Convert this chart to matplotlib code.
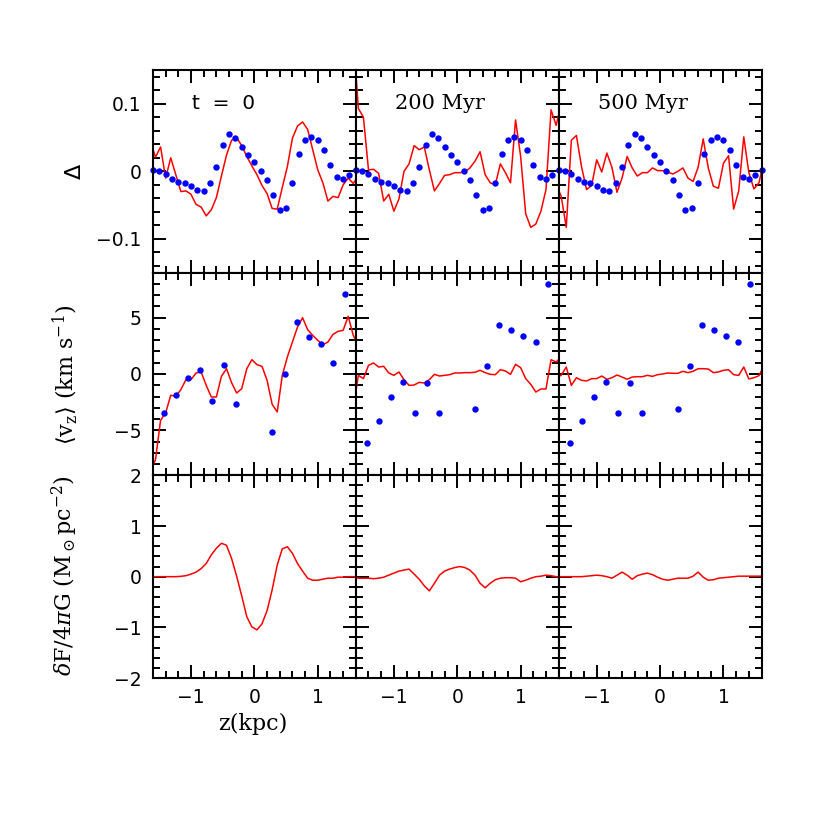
import matplotlib
matplotlib.use("Agg")
import matplotlib.pyplot as plt
from matplotlib.ticker import MultipleLocator

# vertical height grids (kpc)
z_line = [-1.64, -1.56, -1.48, -1.40, -1.32, -1.24, -1.16, -1.08, -1.00, -0.92,
          -0.84, -0.76, -0.68, -0.60, -0.52, -0.44, -0.36, -0.28, -0.20, -0.12,
          -0.04, 0.04, 0.12, 0.20, 0.28, 0.36, 0.44, 0.52, 0.60, 0.68,
          0.76, 0.84, 0.92, 1.00, 1.08, 1.16, 1.24, 1.32, 1.40, 1.48,
          1.56, 1.64]
z_dens = [-1.6, -1.5, -1.4, -1.3, -1.2, -1.1, -1.0, -0.9, -0.8, -0.7, -0.6,
          -0.5, -0.4, -0.3, -0.2, -0.1, 0.0, 0.1, 0.2, 0.3, 0.4, 0.5,
          0.6, 0.7, 0.8, 0.9, 1.0, 1.1, 1.2, 1.3, 1.4, 1.5, 1.6]
z_vel = [-1.425, -1.235, -1.045, -0.855, -0.665, -0.475, -0.285,
         0.285, 0.475, 0.665, 0.855, 1.045, 1.235, 1.425]

# observed number-count asymmetry (same in every column)
delta_obs = [0.002, 0.000, -0.004, -0.011, -0.016, -0.018, -0.021, -0.028,
             -0.029, -0.018, 0.007, 0.039, 0.055, 0.050, 0.036, 0.024, 0.014,
             0.000, -0.013, -0.035, -0.058, -0.055, -0.018, 0.025, 0.046,
             0.051, 0.046, 0.031, 0.010, -0.008, -0.011, -0.006, 0.002]

# observed mean vertical velocity
vz_obs_t0 = [-3.43, -1.89, -0.38, 0.36, -2.40, 0.83, -2.69,
             -5.18, 0.00, 4.62, 3.25, 2.69, 0.95, 7.10]
vz_obs_late = [-6.15, -4.14, -2.04, -0.68, -3.43, -0.80, -3.43,
               -3.14, 0.68, 4.38, 3.88, 3.40, 2.87, 7.96]

# simulated asymmetry
delta_t0 = [0.044, 0.021, 0.036, -0.010, 0.020, -0.005, -0.030, -0.029,
            -0.034, -0.049, -0.053, -0.066, -0.057, -0.039, -0.007, 0.024,
            0.046, 0.050, 0.038, 0.022, 0.008, -0.005, -0.021, -0.033,
            -0.055, -0.056, -0.024, 0.007, 0.049, 0.067, 0.073, 0.062,
            0.032, 0.002, -0.017, -0.044, -0.037, -0.039, -0.020, -0.010,
            -0.018, -0.007]
delta_200 = [0.200, 0.093, 0.080, 0.002, 0.003, -0.003, -0.044, -0.034,
             -0.059, -0.041, 0.000, 0.011, 0.038, 0.032, 0.036, 0.002,
             -0.029, -0.018, -0.006, -0.005, -0.002, -0.002, -0.001, 0.005,
             0.015, 0.029, -0.005, -0.017, -0.020, 0.011, -0.002, -0.017,
             0.076, 0.022, -0.063, -0.083, -0.078, -0.059, -0.027, 0.091,
             0.068, 0.100]
delta_500 = [-0.020, -0.037, -0.083, 0.046, 0.053, 0.007, -0.027, -0.021,
             0.017, -0.001, 0.027, 0.006, -0.031, -0.010, 0.022, 0.005,
             -0.007, -0.002, -0.002, 0.005, 0.001, 0.001, -0.001, -0.004,
             0.000, 0.005, -0.010, -0.015, 0.006, 0.048, 0.005, -0.022,
             -0.025, 0.012, 0.023, -0.056, -0.029, 0.051, -0.002, -0.026,
             -0.017, 0.017]

# simulated mean vertical velocity
vz_t0 = [-8.6, -7.6, -4.11, -3.46, -1.89, -1.98, -1.39, -0.50, -0.50, 0.09,
         0.18, -1.01, -2.04, -2.04, -0.21, 0.47, -0.77, -1.69, -1.30, 0.47,
         1.27, 0.83, 0.68, -0.56, -2.69, -3.37, -0.12, 1.51, 2.84, 4.17,
         5.00, 3.94, 3.43, 2.99, 2.60, 2.84, 3.52, 3.79, 3.88, 5.12,
         3.43, 2.50]
vz_200 = [-3.0, -0.12, -0.41, 0.77, 0.98, 0.62, 0.68, 0.09, -0.12, 0.18,
          -0.50, -1.01, -0.98, -0.74, -0.80, -0.50, -0.03, -0.18, -0.12, -0.06,
          0.09, 0.09, 0.12, 0.12, 0.15, 0.33, 0.12, -0.03, -0.06, 0.38,
          0.27, -0.03, 0.86, 0.56, -0.41, -0.92, -1.60, -1.33, -1.33, 1.27,
          1.07, 1.50]
vz_500 = [-0.30, -0.12, 0.62, -1.01, -0.33, -0.56, -0.62, -0.41, -0.41, -0.18,
          -0.47, -0.33, -0.09, -0.27, -0.47, -0.27, -0.24, -0.24, -0.12, -0.21,
          -0.06, 0.00, 0.09, 0.06, 0.06, 0.24, 0.12, 0.24, 0.47, 0.47,
          0.44, 0.12, 0.18, 0.33, 0.38, -0.06, -0.12, 0.62, -0.44, -0.33,
          -0.15, 0.77]

# vertical force residual
force_t0 = [0.00, 0.00, 0.00, 0.00, 0.00, 0.00, 0.007, 0.02, 0.05, 0.09,
            0.16, 0.26, 0.43, 0.56, 0.66, 0.62, 0.36, 0.01, -0.38, -0.79,
            -0.99, -1.05, -0.93, -0.67, -0.26, 0.23, 0.55, 0.59, 0.46, 0.26,
            0.11, -0.03, -0.07, -0.07, -0.05, -0.03, -0.03, -0.01, -0.01, 0.00,
            0.00, 0.00]
force_200 = [0.00, -0.03, -0.03, -0.03, -0.04, -0.03, -0.01, 0.03, 0.07, 0.11,
             0.13, 0.15, 0.05, -0.05, -0.18, -0.28, -0.13, 0.03, 0.11, 0.15,
             0.18, 0.20, 0.18, 0.13, 0.03, -0.13, -0.22, -0.13, -0.06, -0.03,
             -0.02, -0.02, -0.03, -0.10, -0.07, -0.03, 0.00, 0.01, 0.03, 0.02,
             0.00, 0.00]
force_500 = [0.00, 0.00, 0.00, 0.00, 0.00, 0.00, 0.01, 0.02, 0.03, 0.02,
             0.00, -0.03, 0.03, 0.09, 0.03, -0.05, 0.02, 0.05, 0.07, 0.04,
             -0.01, -0.05, -0.07, -0.05, -0.03, -0.03, -0.03, 0.01, 0.09, -0.01,
             -0.07, -0.06, -0.03, -0.02, -0.01, 0.00, 0.01, 0.01, 0.01, 0.01,
             0.01, 0.01]

titles = ["t  =  0", "200 Myr", "500 Myr"]
delta_sims = [delta_t0, delta_200, delta_500]
vz_sims = [vz_t0, vz_200, vz_500]
vz_obs = [vz_obs_t0, vz_obs_late, vz_obs_late]
force_sims = [force_t0, force_200, force_500]

plt.rcParams["font.family"] = ["DejaVu Sans"]
plt.rcParams["mathtext.fontset"] = "dejavuserif"
SERIF = "DejaVu Serif"

fig = plt.figure(figsize=(8.3, 8.3), dpi=100)
axes = fig.subplots(
    3, 3, sharex=True, sharey="row",
    gridspec_kw=dict(left=0.1843, right=0.9175, top=0.9157, bottom=0.1831,
                     hspace=0, wspace=0),
)

for col in range(3):
    ax1, ax2, ax3 = axes[0, col], axes[1, col], axes[2, col]

    ax1.plot(z_line, delta_sims[col], color="red", lw=1.1)
    ax1.plot(z_dens, delta_obs, "o", color="blue", ms=4.6, mec="none", clip_on=False)
    fam = "DejaVu Sans" if col == 0 else SERIF
    ax1.text(-0.98, 0.1, titles[col], ha="left", va="center",
             fontsize=14.5 if col == 0 else 15, family=fam)

    ax2.plot(z_line, vz_sims[col], color="red", lw=1.1)
    ax2.plot(z_vel, vz_obs[col], "o", color="blue", ms=4.6, mec="none", clip_on=False)

    ax3.plot(z_line, force_sims[col], color="red", lw=1.1)

for ax in axes.flat:
    ax.set_xlim(-1.6, 1.6)
    ax.xaxis.set_major_locator(MultipleLocator(1))
    ax.xaxis.set_minor_locator(MultipleLocator(0.2))
    ax.tick_params(which="both", direction="in", top=True, right=True,
                   width=1.4, labelsize=13.5)
    ax.tick_params(which="major", length=9.7)
    ax.tick_params(which="minor", length=4.8)
    ax.tick_params(axis="x", pad=7)
    ax.tick_params(axis="y", pad=8)
    for sp in ax.spines.values():
        sp.set_linewidth(1.5)

axes[0, 0].set_ylim(-0.15, 0.15)
axes[0, 0].set_yticks([-0.1, 0.0, 0.1])
axes[0, 0].set_yticklabels(["\u22120.1", "0", "0.1"])
axes[0, 0].yaxis.set_minor_locator(MultipleLocator(0.02))

axes[1, 0].set_ylim(-9, 9)
axes[1, 0].set_yticks([-5, 0, 5])
axes[1, 0].set_yticklabels(["\u22125", "0", "5"])
axes[1, 0].yaxis.set_minor_locator(MultipleLocator(1))

axes[2, 0].set_ylim(-2, 2)
axes[2, 0].set_yticks([-2, -1, 0, 1, 2])
axes[2, 0].set_yticklabels(["\u22122", "\u22121", "0", "1", "2"])
axes[2, 0].yaxis.set_minor_locator(MultipleLocator(0.2))

axes[2, 0].set_xticks([-1, 0, 1])
axes[2, 0].set_xticklabels(["\u22121", "0", "1"])

fig.text(0.0904, 0.794, "\u0394", rotation=90, ha="center", va="center",
         fontsize=16, family="DejaVu Sans")
fig.text(0.078, 0.549, r"$\langle\mathrm{v_z}\rangle$ (km s$^{-1}$)", rotation=90,
         ha="center", va="center", fontsize=16, family=SERIF)
fig.text(0.0777, 0.3066, r"$\delta$F/4$\pi$G (M$_\odot$pc$^{-2}$)", rotation=90,
         ha="center", va="center", fontsize=16, family=SERIF)
fig.text(0.3048, 0.128, "z(kpc)", ha="center", va="center", fontsize=16, family=SERIF)

fig.savefig("out.png", dpi=100)
